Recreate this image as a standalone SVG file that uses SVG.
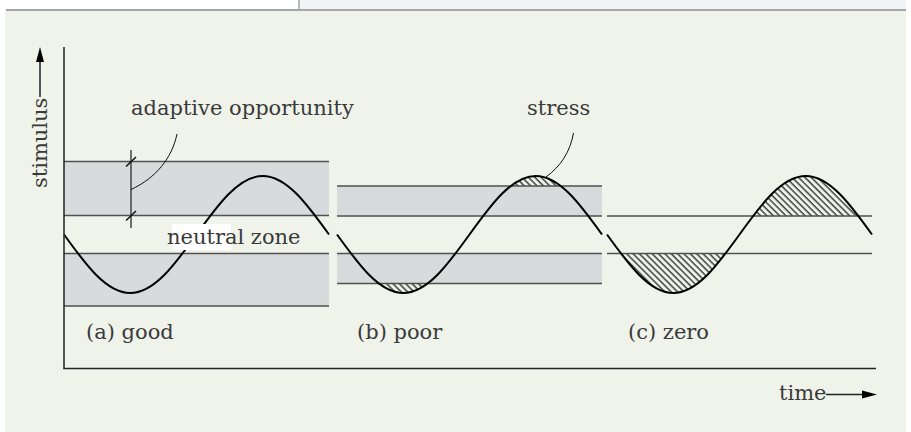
<svg xmlns="http://www.w3.org/2000/svg" width="911" height="432" viewBox="0 0 911 432">
<style>
.txt{font-family:"DejaVu Serif","Liberation Serif",serif;font-size:21px;fill:#3a3a3a}
.band{fill:#d9dadc}
.bl{stroke:#505050;stroke-width:1.5;fill:none}
.ax{stroke:#222;stroke-width:1.5;fill:none}
.wave{stroke:#000;stroke-width:2;fill:none}
.hatchfill{fill:url(#hatch);stroke:none}
.thin{stroke:#111;stroke-width:1;fill:none}
</style>
<defs>
<pattern id="hatch" patternUnits="userSpaceOnUse" width="4.5" height="10" patternTransform="rotate(-45)">
<line x1="1" y1="0" x2="1" y2="10" stroke="#000" stroke-width="1.1"/>
</pattern>
<path id="sine" d="M0,234.5 c21.61,29.97 42.27,58.5 66.25,58.5 c23.98,0 44.64,-28.53 66.25,-58.5 c21.61,-29.97 42.27,-58.5 66.25,-58.5 c23.98,0 44.64,28.53 66.25,58.5"/>
<clipPath id="clipB"><rect x="337" y="0" width="265" height="186"/><rect x="337" y="283.5" width="265" height="60"/></clipPath>
<clipPath id="clipC"><rect x="607" y="0" width="265" height="216"/><rect x="607" y="253.5" width="265" height="80"/></clipPath>
</defs>
<!-- page frame -->
<rect x="0" y="0" width="911" height="432" fill="#ffffff"/>
<rect x="300" y="0" width="606" height="10" fill="#f2f5f6"/>
<rect x="5" y="10" width="901" height="422" fill="#f0f3ea"/>
<line x1="299" y1="0" x2="299" y2="10" stroke="#a0a0a0" stroke-width="1.5"/>
<line x1="6" y1="10" x2="906" y2="10" stroke="#a6a6a6" stroke-width="2"/>

<!-- panel a -->
<g id="panel-a">
<rect class="band" x="64" y="161.5" width="265" height="54"/>
<rect class="band" x="64" y="253.5" width="265" height="52.5"/>
<line class="bl" x1="64" y1="161.5" x2="329" y2="161.5"/>
<line class="bl" x1="64" y1="215.5" x2="329" y2="215.5"/>
<line class="bl" x1="64" y1="253.5" x2="329" y2="253.5"/>
<line class="bl" x1="64" y1="306" x2="329" y2="306"/>
<use href="#sine" class="wave" transform="translate(64,0)"/>
</g>

<!-- panel b -->
<g id="panel-b">
<rect class="band" x="337" y="186" width="265" height="30"/>
<rect class="band" x="337" y="253.5" width="265" height="30"/>
<g clip-path="url(#clipB)"><use href="#sine" class="hatchfill" transform="translate(337,0)"/></g>
<line class="bl" x1="337" y1="186" x2="602" y2="186"/>
<line class="bl" x1="337" y1="216" x2="602" y2="216"/>
<line class="bl" x1="337" y1="253.5" x2="602" y2="253.5"/>
<line class="bl" x1="337" y1="283.5" x2="602" y2="283.5"/>
<use href="#sine" class="wave" transform="translate(337,0)"/>
</g>

<!-- panel c -->
<g id="panel-c">
<g clip-path="url(#clipC)"><use href="#sine" class="hatchfill" transform="translate(607,0)"/></g>
<line class="bl" x1="607" y1="216" x2="872" y2="216"/>
<line class="bl" x1="607" y1="253.5" x2="872" y2="253.5"/>
<use href="#sine" class="wave" transform="translate(607,0)"/>
</g>

<!-- axes -->
<g id="axes">
<line class="ax" x1="64" y1="47" x2="64" y2="368.5"/>
<line class="ax" x1="63.25" y1="368.5" x2="876" y2="368.5"/>
<line class="ax" x1="40" y1="97" x2="40" y2="58"/>
<polygon points="40,47 36,62 44,62" fill="#000"/>
<text class="txt" transform="translate(46.5,188) rotate(-90)">stimulus</text>
<line class="ax" x1="826" y1="394.5" x2="866" y2="394.5"/>
<polygon points="877,394.5 862,390.5 862,398.5" fill="#000"/>
<text class="txt" x="779" y="400">time</text>
</g>

<!-- annotations -->
<g id="connectors">
<line x1="131" y1="150" x2="131" y2="228" stroke="#444" stroke-width="1.5"/>
<line x1="126" y1="166.5" x2="136" y2="157" stroke="#111" stroke-width="1.5"/>
<line x1="126" y1="220.5" x2="136" y2="211" stroke="#111" stroke-width="1.5"/>
<path class="thin" d="M177,134 C172,158 156,178 131,189.5"/>
<path class="thin" d="M573.5,133 C570,152 561,166 546,177"/>
</g>

<g id="labels">
<text class="txt" x="131" y="115">adaptive opportunity</text>
<text class="txt" x="527" y="115">stress</text>
<rect x="172" y="224" width="59" height="26" fill="#ffffff"/>
<text class="txt" x="167" y="244">neutral zone</text>
<text class="txt" x="86" y="339">(a) good</text>
<text class="txt" x="357" y="339">(b) poor</text>
<text class="txt" x="628" y="339">(c) zero</text>
</g>
</svg>
